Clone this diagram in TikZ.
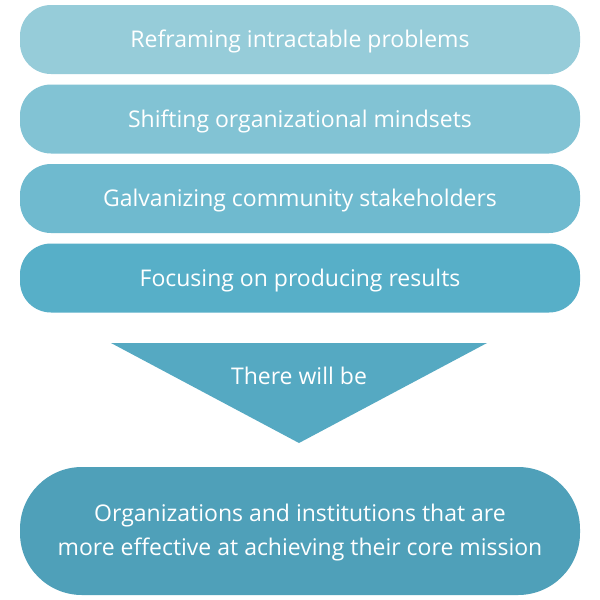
\documentclass[tikz,border=0pt]{standalone}
\usepackage{fontspec}
\setmainfont{Open Sans}
\definecolor{cA}{HTML}{96CCD9}
\definecolor{cB}{HTML}{82C3D4}
\definecolor{cC}{HTML}{6FBACF}
\definecolor{cD}{HTML}{57AFC8}
\definecolor{cT}{HTML}{55A9C2}
\definecolor{cE}{HTML}{4FA0B9}
\begin{document}
\begin{tikzpicture}[x=1pt,y=-1pt,
  pill/.style={rounded corners=31pt, minimum width=560pt, minimum height=69pt, inner sep=0pt, text=white, font=\fontsize{23}{34}\selectfont, text height=16pt, text depth=0pt},
  lbl/.style={text=white, font=\fontsize{23}{34}\selectfont, align=center, text height=16pt, text depth=0pt, inner sep=0pt}]
\useasboundingbox (0,0) rectangle (600,600);
\fill[white] (0,0) rectangle (600,600);
\node[pill, fill=cA] (b1) at (300,39.5) {Reframing intractable problems};
\node[pill, fill=cB] (b2) at (300,119) {Shifting organizational mindsets};
\node[pill, fill=cC] (b3) at (300,198.5) {Galvanizing community stakeholders};
\node[pill, fill=cD] (b4) at (300,278) {Focusing on producing results};
\coordinate (tl) at (111,343);
\coordinate (tr) at (487,343);
\coordinate (tp) at (299,443);
\fill[cT] (tl) -- (tr) -- (tp) -- cycle;
\node[lbl] (t) at (299,376.5) {There will be};
\fill[cE, rounded corners=62pt] (20,467) rectangle (580,595);
\node[lbl] (b5) at (300,547) {Organizations and institutions that are\\more effective at achieving their core mission};
\end{tikzpicture}
\end{document}
